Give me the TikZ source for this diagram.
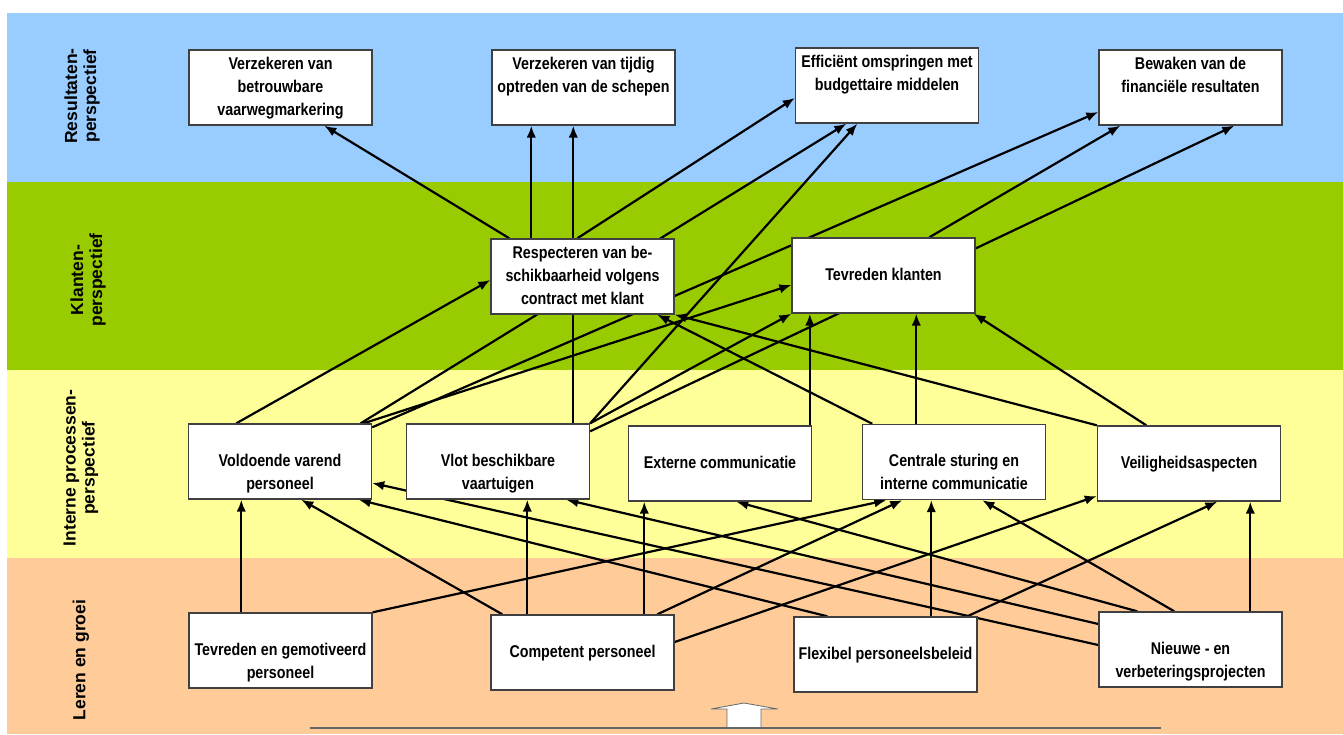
\documentclass[tikz,border=0pt]{standalone}
\usepackage{fontspec}
\setmainfont{Liberation Sans}[FakeStretch=0.84]
\newfontfamily\sidefont{Liberation Sans}
\usetikzlibrary{arrows.meta,calc}
\pgfdeclarelayer{bg}
\pgfdeclarelayer{edges}
\pgfsetlayers{bg,edges,main}
\usepackage{xcolor}
\definecolor{resblue}{HTML}{99CCFF}
\definecolor{klgreen}{HTML}{99CC00}
\definecolor{procyellow}{HTML}{FFFF99}
\definecolor{lerenorange}{HTML}{FFCC99}
\newcommand{\boxlines}[3]{\strut#1\\\strut#2\\\strut#3}

\begin{document}
\begin{tikzpicture}[
  x=1pt, y=-1pt,
  box/.style={draw=black!75, line width=1.4pt, fill=white, minimum width=183pt, minimum height=75pt,
    inner sep=2pt, align=center, font=\fontsize{17}{23}\selectfont\bfseries},
  sidelabel/.style={rotate=90, align=center, font=\sidefont\fontsize{17.5}{19}\selectfont\bfseries},
  arrow/.style={-{Latex[length=12pt,width=9.5pt]}, line width=2.2pt}
]
\useasboundingbox (0,0) rectangle (1343,734);

\begin{pgfonlayer}{bg}
\fill[resblue] (7,13) rectangle (1343,182);
\fill[klgreen] (7,182) rectangle (1343,370);
\fill[procyellow] (7,370) rectangle (1343,558);
\fill[lerenorange] (7,558) rectangle (1343,734);
\end{pgfonlayer}

\node[sidelabel] (lres) at (82,96) {Resultaten-\\perspectief};
\node[sidelabel] (lklant) at (88,280) {Klanten-\\perspectief};
\node[sidelabel] (lproc) at (81,468) {Interne processen-\\perspectief};
\node[sidelabel] (lleren) at (81,660) {Leren en groei};

\node[box] (vaarweg) at (280.5,87.5) {\boxlines{Verzekeren van}{betrouwbare}{vaarwegmarkering}};
\node[box] (tijdig) at (583.5,87.5) {\boxlines{Verzekeren van tijdig}{optreden van de schepen}{}};
\node[box] (budget) at (887,85.5) {\boxlines{Efficiënt omspringen met}{budgettaire middelen}{}};
\node[box] (financ) at (1190.5,87.5) {\boxlines{Bewaken van de}{financiële resultaten}{}};

\node[box] (beschik) at (582.5,276.5) {\boxlines{Respecteren van be-}{schikbaarheid volgens}{contract met klant}};
\node[box] (klanten) at (883.5,275.5) {\boxlines{}{Tevreden klanten}{}};

\node[box] (varend) at (280,461.5) {\boxlines{}{Voldoende varend}{personeel}};
\node[box] (vaartuig) at (498,461.5) {\boxlines{}{Vlot beschikbare}{vaartuigen}};
\node[box] (extcom) at (720,463.5) {\boxlines{}{Externe communicatie}{}};
\node[box] (sturing) at (954,462) {\boxlines{}{Centrale sturing en}{interne communicatie}};
\node[box] (veilig) at (1189,463.5) {\boxlines{}{Veiligheidsaspecten}{}};

\node[box] (gemot) at (280.5,650.5) {\boxlines{}{Tevreden en gemotiveerd}{personeel}};
\node[box] (compet) at (582.5,652.5) {\boxlines{}{Competent personeel}{}};
\node[box] (flexibel) at (885.5,654.5) {\boxlines{}{Flexibel personeelsbeleid}{}};
\node[box] (projecten) at (1190.5,649.5) {\boxlines{}{Nieuwe - en}{verbeteringsprojecten}};

\begin{pgfonlayer}{edges}
% klanten -> resultaten
\draw[arrow] ($(beschik.north west)+(19,0)$) -- ($(vaarweg.south west)+(136,0)$);
\draw[arrow] ($(beschik.north west)+(41,0)$) -- ($(tijdig.south west)+(40,0)$);
\draw[arrow] ($(beschik.north west)+(87,0)$) -- ($(budget.west)+(0,12.5)$);
\draw[arrow] ($(klanten.north west)+(138,0)$) -- ($(financ.south west)+(22,0)$);
% processen -> resultaten
\draw[arrow] ($(vaartuig.north west)+(167.5,0)$) -- ($(tijdig.south west)+(82,0)$);
\draw[arrow] ($(varend.north east)+(-11.5,0)$) -- ($(budget.south west)+(51.5,0)$);
\draw[arrow] ($(varend.north east)+(0,4)$) -- ($(financ.west)+(0,24.5)$);
\draw[arrow] (vaartuig.north east) -- ($(budget.south west)+(62.5,0)$);
\draw[arrow] ($(vaartuig.north east)+(0,8)$) -- ($(financ.south west)+(136,0)$);
% processen -> klanten
\draw[arrow] ($(varend.north west)+(48.5,0)$) -- ($(beschik.west)+(0,3.5)$);
\draw[arrow] ($(varend.north east)+(-8.5,0)$) -- ($(klanten.west)+(0,9.5)$);
\draw[arrow] (vaartuig.north east) -- (klanten.south west);
\draw[arrow] ($(extcom.north west)+(182,0)$) -- ($(klanten.south west)+(18.5,0)$);
\draw[arrow] ($(sturing.north west)+(10.5,0)$) -- ($(beschik.south west)+(167,0)$);
\draw[arrow] ($(sturing.north west)+(54.5,0)$) -- ($(klanten.south west)+(125,0)$);
\draw[arrow] (veilig.north west) -- (beschik.south east);
\draw[arrow] ($(veilig.north west)+(49.5,0)$) -- ($(klanten.south east)+(-2,0)$);
% leren -> processen
\draw[arrow] ($(gemot.north west)+(53,0)$) -- ($(varend.south west)+(53.5,0)$);
\draw[arrow] (gemot.north east) -- ($(sturing.south west)+(24.5,0)$);
\draw[arrow] ($(compet.north west)+(12,0)$) -- ($(varend.south west)+(113.5,0)$);
\draw[arrow] ($(compet.north west)+(37,0)$) -- ($(vaartuig.south west)+(121.5,0)$);
\draw[arrow] ($(compet.north west)+(154,0)$) -- ($(extcom.south west)+(16.5,0)$);
\draw[arrow] ($(compet.north west)+(167,0)$) -- ($(sturing.south west)+(40.5,0)$);
\draw[arrow] ($(compet.east)+(0,-10.5)$) -- ($(veilig.west)+(0,32.5)$);
\draw[arrow] ($(flexibel.north west)+(34,0)$) -- ($(varend.south east)+(-13.5,0)$);
\draw[arrow] ($(flexibel.north west)+(138,0)$) -- ($(sturing.south west)+(69.5,0)$);
\draw[arrow] ($(flexibel.north east)+(-10.5,0)$) -- ($(veilig.south west)+(120.5,0)$);
\draw[arrow] ($(projecten.west)+(0,-4.5)$) -- ($(varend.east)+(0,21.5)$);
\draw[arrow] ($(projecten.west)+(0,-25.5)$) -- ($(vaartuig.south west)+(160.5,0)$);
\draw[arrow] ($(projecten.north west)+(39,0)$) -- ($(extcom.south west)+(108.5,0)$);
\draw[arrow] ($(projecten.north west)+(76,0)$) -- ($(sturing.south west)+(120.5,0)$);
\draw[arrow] ($(projecten.north west)+(152,0)$) -- ($(veilig.south west)+(153.5,0)$);
\end{pgfonlayer}

\draw[black!60, fill=white, line width=0.8pt] (727,728) -- (727,709) -- (711,709) -- (744,703)
  -- (778,709) -- (761,709) -- (761,728) -- cycle;
\draw[black!60, line width=1.5pt] (310,728) -- (1161,728);

\end{tikzpicture}
\end{document}
